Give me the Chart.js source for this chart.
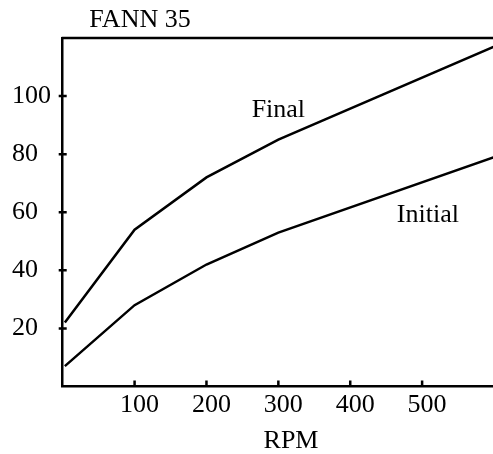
<!DOCTYPE html>
<html>
<head>
<meta charset="utf-8">
<script src="https://cdn.jsdelivr.net/npm/chart.js@4/dist/chart.umd.min.js"></script>
<style>
  html, body { margin:0; padding:0; background:#fff; overflow:hidden; }
  #wrap { width:493px; height:454px; overflow:hidden; }
  canvas { display:block; }
</style>
</head>
<body>
<div id="wrap"><canvas id="fann" width="497" height="454"></canvas></div>
<script>
  // data
  const rpm      = [3, 100, 200, 300, 600];
  const finalVal = [22, 54, 72, 85, 117];
  const initVal  = [7, 28, 42, 53, 79];
  const yTicks   = [20, 40, 60, 80, 100];
  const xTicks   = [100, 200, 300, 400, 500];

  const FONT = '"Liberation Serif", "Times New Roman", serif';
  Chart.defaults.font.family = FONT;
  Chart.defaults.font.size = 26;
  Chart.defaults.color = '#000';

  const pts = arr => rpm.map((x,i)=>({x, y:arr[i]}));

  // tick marks, top border, free text
  const decor = {
    id:'decor',
    afterDraw(chart){
      const {ctx, chartArea:a, scales:{x, y}} = chart;
      ctx.save();
      ctx.strokeStyle = '#000'; ctx.lineWidth = 2.5;
      ctx.beginPath();
      ctx.moveTo(a.left-1, a.top); ctx.lineTo(a.right, a.top);
      yTicks.forEach(v=>{ const p=y.getPixelForValue(v); ctx.moveTo(a.left-4, p); ctx.lineTo(a.left+4, p); });
      xTicks.forEach(v=>{ const p=x.getPixelForValue(v); ctx.moveTo(p, a.bottom); ctx.lineTo(p, a.bottom-6); });
      ctx.stroke();
      ctx.fillStyle = '#000';
      ctx.font = `26px ${FONT}`;
      ctx.textAlign = 'center'; ctx.textBaseline = 'middle';
      ctx.fillText('FANN 35', 140, 20);
      ctx.fillText('RPM', 291, 441);
      ctx.fillText('Final', x.getPixelForValue(300), y.getPixelForValue(95));
      ctx.fillText('Initial', x.getPixelForValue(508), y.getPixelForValue(59));
      ctx.restore();
    }
  };

  new Chart(document.getElementById('fann'), {
    type:'line',
    data:{
      datasets:[
        {label:'Final',   data:pts(finalVal), borderColor:'#000', borderWidth:2.5, pointRadius:0, tension:0, fill:false},
        {label:'Initial', data:pts(initVal),  borderColor:'#000', borderWidth:2.5, pointRadius:0, tension:0, fill:false}
      ]
    },
    options:{
      responsive:false, animation:false, devicePixelRatio:1,
      layout:{padding:{left:12, top:38, right:0.5, bottom:0}},
      plugins:{legend:{display:false}, tooltip:{enabled:false}, title:{display:false}},
      scales:{
        x:{
          type:'linear', min:0, max:600,
          grid:{display:false, drawTicks:false},
          border:{display:true, color:'#000', width:2.5},
          ticks:{stepSize:100, padding:3, labelOffset:5, maxRotation:0,
                 callback:v=> xTicks.includes(v) ? String(v) : ''},
          afterFit:s=>{ s.height = 67.5; }
        },
        y:{
          min:0, max:120,
          grid:{display:false, drawTicks:false},
          border:{display:true, color:'#000', width:2.5},
          ticks:{stepSize:20, crossAlign:'far',
                 callback:v=> yTicks.includes(v) ? String(v) : ''},
          afterFit:s=>{ s.width = 50.7; }
        }
      }
    },
    plugins:[decor]
  });
</script>
</body>
</html>
